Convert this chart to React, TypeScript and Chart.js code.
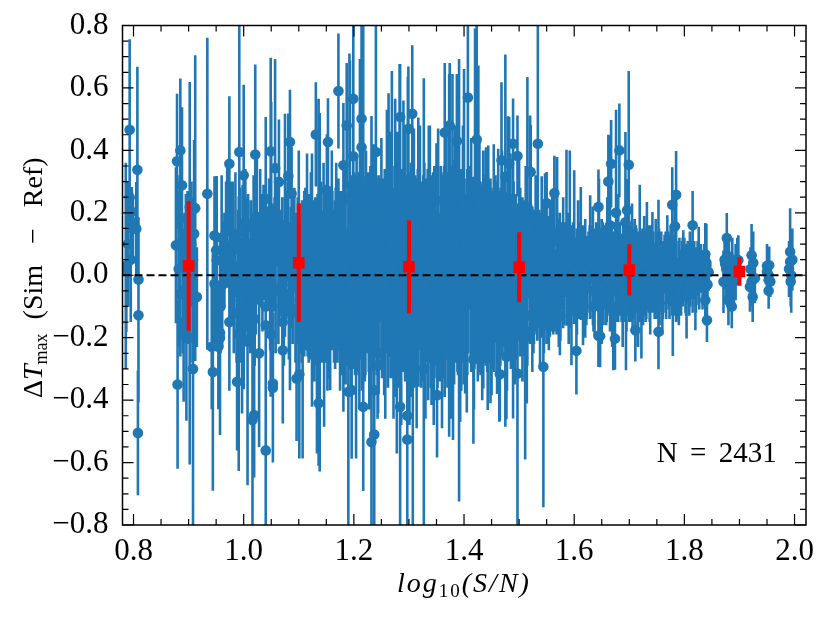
import React, { useEffect, useRef } from "react";
import { Chart, registerables } from "chart.js";

Chart.register(...registerables);

const FONT = "'Liberation Serif'";
const BLUE = "#1f77b4";
const RED = "#ff0000";

// individually readable points
const pointX = [
  .787,.793,.793,.807,.797,.795,.799,.805,.877,.879,
  .885,.888,.885,.912,.902,.91,.934,.947,.951,.974,
  .992,1.0,1.021,1.049,1.057,1.084,1.081,1.064,1.04,1.024,
  1.131,1.153,1.172,1.187,1.181,1.151,1.087,.88,.808,.809,
  .809,.891,.944,.942,.954,.957,.947,.961,.988,.991,
  1.0,1.007,1.017,1.019,1.016,1.028,1.04,1.04,1.049,1.053,
  1.053,1.096,1.101,1.071,1.136,1.181,1.19,1.199,1.214,1.214,
  1.199,1.24,1.365,1.374,1.407,1.387,1.423,1.306,1.284,1.299,
  1.468,1.475,1.482,1.489,1.497,1.534,1.521,1.55,1.564,1.644,
  1.196,1.217,1.232,1.237,1.237,1.244,1.284,1.297,1.297,1.351,
  1.417,1.465,1.477,1.489,1.497,1.544,1.604,1.644,1.662,1.667,
  1.682,1.699,1.696,1.785,1.778,1.783,1.815,1.838,1.841,1.647,
  1.674,1.753,1.711,1.838,1.871,1.877,1.874,1.88,1.886,1.898,
  1.922,1.924,1.919,1.954,1.95,1.953,1.953,1.992,1.994,1.992,
];
const pointY = [
  .018,.466,.25,.338,.203,.174,.149,.149,.096,.365,
  .40,.288,.18,.215,.219,.133,.261,.127,.048,.357,
  .395,.32,.387,.397,.343,.427,.318,.299,.245,.187,
  .451,.427,.59,.48,.352,.272,.261,-.35,-.505,-.128,
  -.014,-.178,-.31,-.229,-.229,-.184,-.027,-.032,-.341,-.187,
  -.165,-.213,-.085,-.448,-.464,-.25,-.561,-.16,-.189,-.347,
  -.36,-.331,-.317,-.24,-.41,-.237,-.373,.565,.501,.41,
  .381,.395,.457,.48,.569,.43,.435,.517,.507,.469,
  .368,.315,.357,.421,.382,.421,.331,.231,.263,.219,
  -.368,-.421,-.534,-.51,-.368,-.288,-.421,-.45,-.526,-.384,
  -.27,-.317,-.261,-.259,-.315,-.293,-.242,-.194,.30,.357,
  .4,.354,.208,.258,.226,.157,.16,.067,-.144,-.195,
  -.203,-.181,-.176,-.08,-.021,.119,.037,-.08,-.10,.048,
  .064,-.07,-.037,.032,.011,-.016,-.05,.075,0,.043,
];
const pointErr = [
  .2,.29,.09,.33,.08,.1,.1,.15,.25,.216,
  .23,.25,.2,.49,.4,.3,.5,.19,.27,.216,
  .5,.29,.288,.3,.35,.167,.2,.2,.2,.2,
  .167,.14,.184,.2,.2,.18,.15,.27,.2,.28,
  .2,.2,.38,.2,.2,.2,.2,.2,.22,.44,
  .2,.46,.2,.2,.37,.3,.3,.2,.2,.2,
  .24,.2,.27,.2,.2,.2,.43,.3,.35,.25,
  .2,.45,.223,.2,.35,.215,.45,.22,.17,.2,
  .25,.15,.15,.145,.13,.38,.15,.1,.12,.12,
  .22,.27,.3,.3,.2,.15,.42,.35,.25,.2,
  .27,.15,.2,.2,.5,.45,.14,.1,.15,.14,
  .15,.3,.1,.14,.12,.1,.11,.1,.07,.1,
  .1,.12,.1,.08,.1,.08,.08,.08,.07,.08,
  .1,.08,.08,.06,.07,.06,.057,.14,.12,.1,
];

// scattered bars in the thin left part
const leftX = [
  .786,.79,.795,.882,.885,.89,.895,.9,.905,.915,
  .96,.965,.97,.978,.982,.985,.99,.995,1.003,1.006,
  1.01,1.013,1.018,1.022,1.026,1.03,1.034,1.037,1.043,1.046,
  1.052,1.056,1.06,1.063,1.067,1.07,1.073,1.077,1.08,1.083,
  1.086,1.089,1.092,1.095,1.098,
  .884,.893,.898,.903,.908,.95,.958,.968,.975,.98,
  .987,.993,.998,1.002,1.008,1.012,1.016,1.02,1.024,1.028,
  1.032,1.036,1.04,1.044,1.048,
];
const leftY = [
  .03,.1,.05,.02,-.06,-.05,.06,-.03,.1,-.07,
  .12,.05,.16,.08,-.05,.13,.03,-.08,.17,.03,
  -.06,.09,.15,-.04,.06,.18,-.02,.1,.03,.15,
  -.1,.07,.17,-.05,.05,.12,-.12,.03,.14,-.08,
  .09,-.03,.13,-.12,.05,
  .1,.03,.12,-.08,.05,.08,-.1,.14,.03,.1,
  -.12,.08,.14,-.03,.1,-.08,.05,-.14,.12,-.06,
  .08,.15,-.1,.06,-.04,
];
const leftErr = [
  .33,.2,.2,.25,.2,.2,.2,.19,.2,.16,
  .2,.15,.2,.22,.2,.2,.18,.2,.17,.2,
  .17,.15,.17,.15,.14,.16,.16,.18,.14,.16,
  .16,.18,.14,.17,.16,.13,.17,.17,.16,.19,
  .13,.19,.15,.15,.2,
  .22,.17,.15,.2,.2,.14,.15,.16,.18,.2,
  .16,.2,.15,.19,.16,.17,.15,.15,.15,.16,
  .18,.14,.17,.16,.2,
];

// tall upward bars
const upX = [
  1.04,1.05,1.075,1.1,1.136,1.138,1.115,1.124,1.16,1.192,
  1.193,1.211,1.217,1.232,1.26,1.263,1.269,1.275,1.283,1.29,
  1.298,1.317,1.327,1.336,1.35,1.373,1.379,1.387,1.391,1.4,
  1.42,1.426,1.435,1.444,1.457,1.462,1.475,1.48,1.489,1.515,
  1.52,1.541,1.547,1.569,1.586,1.592,1.6,1.612,1.629,1.645,
  1.665,1.676,1.693,1.719,1.732,1.742,1.753,1.769,1.798,1.826,1.84,
];
const upY = [
  .15,.18,.16,.1,.18,.16,.1,.07,.09,.25,
  .24,.25,.3,.15,.17,.19,.22,.18,.24,.18,
  .22,.15,.21,.14,.11,.22,.22,.2,.25,.23,
  .3,.23,.1,.11,.06,.1,.25,.15,.18,.22,
  .15,.08,.09,.11,.12,.12,.09,.07,.06,.08,
  .16,.2,.17,.09,.06,.05,.07,.05,.03,.03,.04,
];
const upErr = [
  .357,.375,.357,.3,.385,.36,.29,.32,.31,.46,
  .448,.443,.5,.36,.36,.393,.434,.385,.437,.38,
  .417,.355,.421,.34,.313,.425,.425,.408,.443,.431,
  .49,.442,.3,.306,.26,.305,.457,.359,.385,.415,
  .362,.237,.237,.269,.282,.28,.246,.213,.196,.229,
  .288,.33,.289,.2,.175,.153,.172,.142,.114,.125,.125,
];

// tall downward bars
const downX = [
  1.071,1.084,1.107,1.124,1.133,1.138,1.146,1.157,1.204,1.244,
  1.255,1.278,1.307,1.317,1.327,1.341,1.373,1.38,1.391,1.402,
  1.435,1.443,1.45,1.464,1.475,1.511,1.514,1.556,1.574,1.595,
  1.616,1.637,1.645,1.647,1.671,1.694,1.711,1.722,1.753,1.779,1.804,1.82,
  .896,.902,.891,.957,.974,.997,.908,
];
const downY = [
  -.15,-.1,-.2,-.13,-.19,-.22,-.15,-.1,-.2,-.12,
  -.1,-.19,-.3,-.1,-.3,-.12,-.16,-.17,-.25,-.1,
  -.1,-.13,-.11,-.14,-.15,-.2,-.13,-.06,-.08,-.09,
  -.07,-.05,-.1,-.1,-.1,-.1,-.08,-.09,-.1,-.08,-.06,-.05,
  -.2,-.2,-.15,-.2,-.15,-.2,-.3,
];
const downErr = [
  .325,.268,.387,.291,.381,.409,.335,.268,.387,.323,
  .284,.381,.505,.257,.505,.296,.357,.358,.475,.279,
  .263,.302,.274,.329,.335,.39,.281,.137,.176,.198,
  .154,.142,.193,.193,.204,.204,.165,.177,.193,.179,.143,.126,
  .266,.406,.255,.312,.22,.243,.52,
];

// bars that reach past the edge of the body
const midX = [
  1.122,1.128,1.145,1.152,1.168,1.175,1.183,1.195,1.205,1.21,
  1.222,1.228,1.236,1.243,1.25,1.257,1.266,1.272,1.279,1.286,
  1.293,1.301,1.309,1.314,1.32,1.33,1.338,1.345,1.353,1.36,
  1.368,1.376,1.384,1.393,1.398,1.405,1.413,1.418,1.428,1.433,
  1.44,1.448,1.454,1.46,1.469,1.478,1.484,1.492,1.5,1.506,
  1.512,1.524,1.53,1.538,1.549,1.554,1.56,1.572,1.58,1.59,
  1.607,1.62,1.634,1.65,1.66,1.669,1.68,1.688,1.705,1.716,
  1.727,1.738,1.748,1.76,1.775,1.79,1.81,
];
const midY = [
  .03,-.05,.04,-.06,.05,-.07,.06,-.06,.07,-.07,
  .08,-.08,.09,-.09,.1,-.08,.1,-.09,.11,-.1,
  .1,-.1,.11,-.09,.12,-.1,.1,-.11,.1,-.09,
  .11,-.1,.1,-.11,.12,-.09,.1,-.08,.11,-.08,
  .1,-.09,.09,-.08,.1,-.07,.09,-.07,.08,-.06,
  .08,-.06,.07,-.05,.06,-.04,.06,-.04,.05,-.04,
  .05,-.04,.04,-.04,.06,-.05,.06,-.05,.05,-.05,
  .03,-.04,.03,-.04,.03,-.03,.02,
];
const midErr = [
  .3,.29,.32,.31,.31,.3,.3,.33,.31,.36,
  .32,.35,.33,.37,.34,.38,.36,.37,.35,.38,
  .38,.38,.36,.4,.36,.36,.38,.37,.37,.4,
  .38,.36,.38,.36,.36,.35,.34,.35,.33,.32,
  .31,.32,.33,.3,.3,.3,.3,.28,.29,.28,
  .27,.25,.25,.24,.22,.2,.2,.19,.2,.18,
  .19,.16,.18,.18,.19,.18,.2,.18,.18,.18,
  .16,.15,.15,.15,.13,.13,.12,
];

// the dense body of the cloud
const coreX = [
  1.101,1.104,1.107,1.110,1.113,1.116,1.119,1.122,1.125,1.128,
  1.131,1.134,1.137,1.140,1.143,1.146,1.149,1.152,1.155,1.158,
  1.161,1.164,1.167,1.170,1.173,1.176,1.179,1.182,1.185,1.188,
  1.191,1.194,1.197,1.200,1.203,1.206,1.209,1.212,1.215,1.218,
  1.221,1.224,1.227,1.230,1.233,1.236,1.239,1.242,1.245,1.248,
  1.251,1.254,1.257,1.260,1.263,1.266,1.269,1.272,1.275,1.278,
  1.281,1.284,1.287,1.290,1.293,1.296,1.299,1.302,1.305,1.308,
  1.311,1.314,1.317,1.320,1.323,1.326,1.329,1.332,1.335,1.338,
  1.341,1.344,1.347,1.350,1.353,1.356,1.359,1.362,1.365,1.368,
  1.371,1.374,1.377,1.380,1.383,1.386,1.389,1.392,1.395,1.398,
  1.401,1.404,1.407,1.410,1.413,1.416,1.419,1.422,1.425,1.428,
  1.431,1.434,1.437,1.440,1.443,1.446,1.449,1.452,1.455,1.458,
  1.461,1.464,1.467,1.470,1.473,1.476,1.479,1.482,1.485,1.488,
  1.491,1.494,1.497,1.500,1.503,1.506,1.509,1.512,1.515,1.518,
  1.521,1.524,1.527,1.530,1.533,1.536,1.539,1.542,1.545,1.548,
  1.551,1.554,1.557,1.560,1.563,1.566,1.569,1.572,1.575,1.578,
  1.581,1.584,1.587,1.590,1.593,1.596,1.599,1.602,1.605,1.608,
  1.611,1.614,1.617,1.620,1.623,1.626,1.629,1.632,1.635,1.638,
  1.641,1.644,1.647,1.650,1.653,1.656,1.659,1.662,1.665,1.668,
  1.671,1.674,1.677,1.680,1.683,1.686,1.689,1.692,1.695,1.698,
  1.701,1.704,1.707,1.710,1.713,1.716,1.719,1.722,1.725,1.728,
  1.731,1.734,1.737,1.740,1.743,1.746,1.749,1.752,1.755,1.758,
  1.761,1.764,1.767,1.770,1.773,1.776,1.779,1.782,1.785,1.788,
  1.791,1.794,1.797,1.800,1.803,1.806,1.809,1.812,1.815,1.818,
  1.821,1.824,1.827,1.830,1.833,1.836,1.838,1.840,1.842,1.844,
  1.873,1.876,1.878,1.881,1.884,1.887,1.890,1.893,1.896,1.880,
  1.920,1.922,1.925,1.928,1.950,1.953,1.956,1.990,1.993,1.996,
];
const coreY = [
  .03,-.04,.06,-.02,.05,-.06,.01,.07,-.03,.02,
  -.05,.06,-.02,.04,-.07,.08,-.01,.05,-.06,.03,
  .07,-.04,.02,-.08,.06,-.02,.09,-.05,.03,-.07,
  .08,-.03,.05,-.09,.02,.1,-.06,.04,-.01,.07,
  -.08,.09,-.02,.05,-.1,.03,.11,-.05,.01,.08,
  -.07,.1,-.03,.04,-.11,.12,.02,-.06,.09,-.02,
  .06,-.09,.11,.01,-.05,.08,-.12,.03,.1,-.04,
  .12,-.08,.02,.07,-.11,.04,-.03,.11,-.06,.09,
  -.1,.05,.13,-.02,.08,-.07,.01,.1,-.12,.04,
  .08,-.05,.11,-.09,.03,.06,-.02,.12,-.07,.02,
  .09,-.08,.03,.11,-.04,.06,-.1,.02,.08,-.05,
  .1,-.07,.04,-.02,.08,-.09,.01,.06,-.05,.09,
  -.06,.07,.02,-.09,.1,-.01,.05,-.07,.08,.02,
  -.05,.09,-.01,.05,-.08,.03,.07,-.04,.01,.08,
  -.06,.04,-.02,.08,-.05,.02,.06,-.04,.01,.07,
  -.05,.02,.06,-.03,.04,-.06,.01,.07,-.02,.03,
  -.04,.05,-.01,.03,-.05,.06,.01,-.03,.07,-.02,
  .04,-.03,.06,.01,-.04,.05,-.01,.08,-.05,.03,
  .06,-.04,.02,.08,-.05,.03,-.02,.07,-.06,.04,
  -.03,.07,.01,-.05,.08,-.02,.04,-.06,.06,.01,
  .06,-.04,.02,-.05,.07,.01,-.03,.05,-.05,.03,
  -.02,.05,-.05,.03,.06,-.04,.01,-.06,.05,.02,
  -.04,.04,-.02,.06,-.05,.02,.05,-.03,.01,-.05,
  .04,-.03,.01,.05,-.05,.02,-.02,.04,-.04,.02,
  -.03,.03,-.01,.04,-.04,.01,-.02,.03,-.03,.01,
  .05,.02,-.03,.06,-.04,.03,-.02,.01,.05,-.08,
  .02,-.02,.04,-.01,.03,0,-.02,.02,-.02,.05,
];
const coreErr = [
  .2,.21,.18,.24,.19,.2,.25,.17,.23,.22,
  .22,.2,.27,.22,.2,.18,.27,.21,.21,.24,
  .2,.24,.26,.2,.21,.29,.18,.25,.27,.22,
  .21,.27,.25,.21,.3,.2,.26,.27,.3,.23,
  .24,.22,.29,.26,.21,.3,.2,.27,.31,.23,
  .26,.21,.3,.29,.22,.2,.31,.27,.23,.32,
  .26,.25,.21,.32,.29,.24,.22,.3,.23,.31,
  .2,.26,.31,.25,.23,.28,.31,.2,.28,.23,
  .23,.28,.2,.31,.25,.27,.32,.22,.21,.29,
  .25,.28,.21,.23,.3,.26,.3,.2,.25,.3,
  .22,.23,.28,.19,.27,.24,.2,.29,.22,.26,
  .19,.21,.25,.27,.2,.19,.27,.21,.22,.18,
  .2,.2,.26,.17,.17,.24,.21,.19,.18,.24,
  .2,.17,.23,.2,.17,.22,.17,.19,.21,.15,
  .16,.18,.2,.14,.16,.19,.14,.16,.18,.13,
  .14,.17,.13,.15,.15,.12,.16,.11,.14,.14,
  .12,.12,.14,.13,.11,.1,.14,.11,.08,.12,
  .1,.11,.09,.12,.1,.09,.13,.08,.09,.12,
  .1,.11,.13,.09,.11,.13,.13,.1,.1,.12,
  .12,.1,.15,.1,.09,.13,.12,.09,.1,.14,
  .1,.11,.13,.09,.08,.13,.11,.09,.1,.12,
  .12,.1,.1,.11,.08,.1,.13,.08,.09,.12,
  .1,.09,.12,.07,.09,.11,.08,.1,.12,.09,
  .08,.1,.11,.07,.08,.09,.11,.07,.08,.09,
  .09,.08,.1,.06,.07,.09,.09,.06,.06,.06,
  .06,.09,.07,.07,.06,.09,.08,.09,.07,.07,
  .07,.08,.1,.08,.07,.06,.05,.09,.08,.1,
];

// the widest bars of the body
const wideX = [
  1.052,1.058,1.064,1.07,1.076,1.082,1.088,1.094,1.1,1.106,
  1.112,1.118,1.124,1.13,1.136,1.142,1.148,1.154,1.16,1.166,
  1.172,1.178,1.184,1.19,1.196,1.202,1.208,1.214,1.22,1.226,
  1.232,1.238,1.244,1.25,1.256,1.262,1.268,1.274,1.28,1.286,
  1.292,1.298,1.304,1.31,1.316,1.322,1.328,1.334,1.34,1.346,
  1.352,1.358,1.364,1.37,1.376,1.382,1.388,1.394,1.4,1.406,
  1.412,1.418,1.424,1.43,1.436,1.442,1.448,1.454,1.46,1.466,
  1.472,1.478,1.484,1.49,1.496,1.502,1.508,1.514,1.52,1.526,
  1.532,1.538,1.544,1.55,1.556,1.562,1.568,1.574,1.58,1.586,
  1.592,1.598,1.604,1.61,1.616,1.622,1.628,1.634,1.64,1.646,
  1.652,1.658,1.664,1.67,1.676,1.682,1.688,1.694,1.7,1.706,
  1.712,1.718,1.724,1.73,1.736,1.742,1.748,1.754,1.76,1.766,
  1.772,1.778,1.784,1.79,1.796,1.802,1.808,1.814,1.82,1.826,
];
const wideY = [
  .04,-.05,.06,-.03,.07,-.06,.05,-.04,.03,-.02,
  .02,-.03,.04,-.02,.01,-.04,.05,-.01,.03,-.03,
  .04,-.03,.02,-.01,.05,-.05,.01,.03,-.02,.04,
  -.03,.04,-.02,.02,.05,-.04,.01,.03,-.03,.04,
  .02,-.04,.03,-.02,.05,-.03,.01,.04,-.02,.03,
  -.03,.04,.01,-.02,.05,-.04,.02,.03,-.03,.01,
  .03,-.03,.04,-.01,.02,-.04,.05,-.02,.03,-.02,
  .04,-.03,.02,.05,-.02,.01,-.03,.04,.02,-.02,
  .03,-.02,.01,-.03,.04,.01,-.02,.03,-.01,.02,
  -.01,.02,-.02,.02,.01,-.02,.02,-.01,.03,-.02,
  .02,-.02,.03,-.01,.01,.02,-.02,.03,.01,-.02,
  .02,-.01,.01,-.02,.02,.01,-.01,.02,-.02,.01,
  .01,-.01,.02,-.01,.01,-.01,.01,.02,-.01,.01,
];
const wideErr = [
  .19,.2,.21,.22,.2,.21,.22,.24,.25,.26,
  .26,.25,.24,.27,.28,.24,.24,.28,.27,.27,
  .27,.29,.29,.31,.27,.27,.32,.3,.32,.29,
  .32,.3,.33,.32,.29,.32,.34,.32,.33,.3,
  .33,.31,.33,.34,.29,.33,.35,.3,.34,.32,
  .33,.31,.34,.34,.3,.31,.33,.31,.32,.33,
  .3,.3,.29,.31,.3,.27,.26,.28,.27,.27,
  .27,.26,.27,.25,.25,.27,.23,.24,.24,.23,
  .22,.21,.21,.19,.18,.2,.17,.17,.16,.17,
  .16,.15,.14,.15,.15,.14,.14,.15,.14,.15,
  .15,.14,.15,.15,.16,.15,.14,.15,.16,.15,
  .14,.14,.14,.13,.14,.13,.13,.13,.13,.13,
  .12,.12,.11,.12,.1,.11,.1,.09,.1,.09,
];

// points along the edge of the body
const edgeX = [
  1.11,1.125,1.14,1.155,1.17,1.185,1.2,1.215,1.23,1.245,1.26,1.275,
  1.29,1.305,1.32,1.335,1.35,1.365,1.38,1.395,1.41,1.425,1.44,1.455,
  1.47,1.485,1.5,1.515,1.53,1.545,1.56,1.575,1.59,1.605,1.62,1.635,
  1.65,1.665,1.68,1.695,1.71,1.725,1.74,1.755,1.77,1.785,1.8,1.815,
];
const edgeY = [
  .17,-.2,.19,-.21,.2,-.22,.21,-.24,.23,-.25,.24,-.25,
  .25,-.26,.25,-.26,.24,-.25,.25,-.24,.23,-.22,.22,-.2,
  .21,-.2,.2,-.18,.18,-.16,.14,-.13,.12,-.11,.11,-.1,
  .11,-.1,.12,-.1,.11,-.09,.09,-.09,.08,-.08,.07,-.06,
];
const edgeErr = [
  .1,.11,.11,.12,.11,.13,.12,.13,.12,.13,.12,.14,
  .12,.13,.13,.14,.13,.14,.12,.13,.12,.12,.11,.11,
  .12,.1,.1,.11,.09,.09,.09,.08,.08,.08,.07,.08,
  .07,.08,.07,.08,.07,.07,.07,.07,.06,.07,.05,.06,
];

// binned medians
const binX = [0.9, 1.1, 1.3, 1.5, 1.7, 1.9];
const binY = [0.03, 0.04, 0.027, 0.026, 0.017, 0.012];
const binErr = [0.208, 0.19, 0.149, 0.112, 0.082, 0.046];

const xMajorTicks = [0.8, 1.0, 1.2, 1.4, 1.6, 1.8, 2.0];
const xMinorTicks = [0.85, 0.9, 0.95, 1.05, 1.1, 1.15, 1.25, 1.3, 1.35, 1.45, 1.5, 1.55, 1.65, 1.7, 1.75, 1.85, 1.9, 1.95];
const yMajorTicks = [-0.8, -0.6, -0.4, -0.2, 0, 0.2, 0.4, 0.6, 0.8];
const yMinorTicks = [-0.75, -0.7, -0.65, -0.55, -0.5, -0.45, -0.35, -0.3, -0.25, -0.15, -0.1, -0.05, 0.05, 0.1, 0.15, 0.25, 0.3, 0.35, 0.45, 0.5, 0.55, 0.65, 0.7, 0.75];
const xRange = [0.78, 2.0208];
const yRange = [-0.8, 0.8];
const countLabel = "N = 2431";
const countAt = { x: 1.75, y: -0.598 };

function zip(xs: number[], ys: number[], errs: number[]) {
  return xs.map((x, i) => ({ x, y: ys[i], err: errs[i] ?? 0 }));
}

const errorBars = {
  id: "errorBars",
  beforeDatasetDraw(chart: any, args: any) {
    const ds = chart.data.datasets[args.index];
    if (!ds.barWidth) return;
    const { ctx, chartArea: a, scales } = chart;
    ctx.save();
    ctx.beginPath();
    ctx.rect(a.left, a.top, a.right - a.left, a.bottom - a.top);
    ctx.clip();
    ctx.strokeStyle = ds.backgroundColor;
    ctx.lineWidth = ds.barWidth;
    ctx.beginPath();
    for (const p of ds.data) {
      const px = scales.x.getPixelForValue(p.x);
      ctx.moveTo(px, scales.y.getPixelForValue(p.y - p.err));
      ctx.lineTo(px, scales.y.getPixelForValue(p.y + p.err));
    }
    ctx.stroke();
    ctx.restore();
  },
};

const frame = {
  id: "frame",
  afterDraw(chart: any) {
    const { ctx, chartArea: a, scales } = chart;
    ctx.save();
    ctx.strokeStyle = "#000";
    ctx.lineWidth = 1.2;
    ctx.beginPath();
    const xt = (vals: number[], len: number) => {
      for (const v of vals) {
        const p = scales.x.getPixelForValue(v);
        ctx.moveTo(p, a.bottom); ctx.lineTo(p, a.bottom - len);
        ctx.moveTo(p, a.top); ctx.lineTo(p, a.top + len);
      }
    };
    const yt = (vals: number[], len: number) => {
      for (const v of vals) {
        const p = scales.y.getPixelForValue(v);
        ctx.moveTo(a.left, p); ctx.lineTo(a.left + len, p);
        ctx.moveTo(a.right, p); ctx.lineTo(a.right - len, p);
      }
    };
    xt(xMajorTicks, 11); xt(xMinorTicks, 6);
    yt(yMajorTicks, 11); yt(yMinorTicks, 6);
    ctx.stroke();
    ctx.lineWidth = 1.5;
    ctx.strokeRect(a.left, a.top, a.right - a.left, a.bottom - a.top);

    ctx.fillStyle = "#000";
    ctx.textBaseline = "alphabetic";
    // count annotation
    ctx.textAlign = "left";
    ctx.font = `29px ${FONT}`;
    (ctx as any).wordSpacing = "5px";
    ctx.fillText(countLabel, scales.x.getPixelForValue(countAt.x), scales.y.getPixelForValue(countAt.y));
    (ctx as any).wordSpacing = "0px";

    // x axis title
    let x = 397;
    const xBase = 592;
    (ctx as any).letterSpacing = "2px";
    const run = (t: string, font: string, dy: number) => {
      ctx.font = font;
      ctx.fillText(t, x, xBase + dy);
      x += ctx.measureText(t).width;
    };
    run("log", `italic 28px ${FONT}`, 0);
    run("10", `19px ${FONT}`, 5);
    run("(S/N)", `italic 28px ${FONT}`, 0);
    (ctx as any).letterSpacing = "0px";

    // y axis title
    ctx.translate(42, 398);
    ctx.rotate(-Math.PI / 2);
    let t = 0;
    const runY = (s: string, font: string, dy: number) => {
      ctx.font = font;
      ctx.fillText(s, t, dy);
      t += ctx.measureText(s).width;
    };
    runY("Δ", `28px ${FONT}`, 0);
    runY("T", `italic 28px ${FONT}`, 0);
    runY("max", `18px ${FONT}`, 5);
    t += 14;
    (ctx as any).wordSpacing = "14px";
    runY("(Sim − Ref)", `28px ${FONT}`, 0);
    (ctx as any).wordSpacing = "0px";
    ctx.restore();
  },
};

export default function App() {
  const ref = useRef<HTMLCanvasElement>(null);
  useEffect(() => {
    const tickFont = { family: FONT, size: 31 };
    const label = (v: any) => Number(v).toFixed(1).replace("-", "−");
    const noPad = (s: any) => { s.paddingTop = 0; s.paddingBottom = 0; s.paddingLeft = 0; s.paddingRight = 0; };
    const chart = new Chart(ref.current as HTMLCanvasElement, {
      type: "scatter",
      data: {
        datasets: [
          {
            data: zip(binX, binY, binErr), order: 0, barWidth: 4,
            backgroundColor: RED, borderColor: RED, pointStyle: "rect", pointRadius: 8.2, pointBorderWidth: 0,
          },
          {
            type: "line",
            data: [{ x: xRange[0], y: 0 }, { x: xRange[1], y: 0 }], order: 1,
            borderColor: "#000", borderWidth: 2.2, borderDash: [8, 4], pointRadius: 0,
          },
          {
            data: [
              ...zip(wideX, wideY, wideErr),
              ...zip(coreX, coreY, coreErr),
              ...zip(midX, midY, midErr),
              ...zip(edgeX, edgeY, edgeErr),
              ...zip(upX, upY, upErr),
              ...zip(downX, downY, downErr),
              ...zip(leftX, leftY, leftErr),
              ...zip(pointX, pointY, pointErr),
            ],
            order: 2, barWidth: 2.6,
            backgroundColor: BLUE, borderColor: BLUE, pointRadius: 5.3, pointBorderWidth: 0,
          },
        ] as any,
      },
      options: {
        animation: false,
        responsive: false,
        events: [],
        layout: { padding: { top: 25.5, right: 24, bottom: 0, left: 0 } },
        plugins: { legend: { display: false }, tooltip: { enabled: false } },
        scales: {
          x: {
            type: "linear", min: xRange[0], max: xRange[1],
            grid: { display: false, drawTicks: false }, border: { display: false },
            afterBuildTicks: (s: any) => { s.ticks = xMajorTicks.map((value) => ({ value })); },
            afterFit: (s: any) => { s.height = 98; noPad(s); },
            ticks: { font: tickFont, color: "#000", padding: 8, maxRotation: 0, autoSkip: false, callback: label },
          },
          y: {
            type: "linear", min: yRange[0], max: yRange[1],
            grid: { display: false, drawTicks: false }, border: { display: false },
            afterBuildTicks: (s: any) => { s.ticks = yMajorTicks.map((value) => ({ value })); },
            afterFit: (s: any) => { s.width = 122.5; noPad(s); },
            ticks: { font: tickFont, color: "#000", padding: 14, autoSkip: false, callback: label },
          },
        },
      } as any,
      plugins: [errorBars, frame],
    });
    return () => chart.destroy();
  }, []);
  return (
    <div style={{ position: "fixed", left: 0, top: 0, width: 830, height: 623, background: "#fff" }}>
      <canvas ref={ref} width={830} height={623} style={{ display: "block" }} />
    </div>
  );
}
